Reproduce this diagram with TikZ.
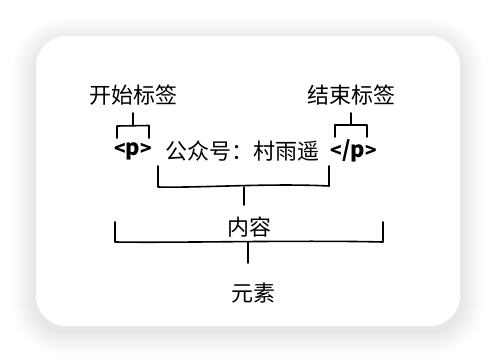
\documentclass[tikz,border=0pt]{standalone}
\usepackage{fontspec}
\setmainfont{Noto Sans CJK SC}
\usetikzlibrary{positioning}
\tikzset{
  lbl/.style={inner sep=0pt, font=\fontsize{22}{22}\selectfont},
  tag/.style={lbl, font=\fontsize{22}{22}\selectfont\bfseries},
  brace/.style={line width=1.6pt, line cap=round, line join=round},
}
\newcommand{\ang}[1]{{\fontsize{19}{19}\selectfont#1}}
\begin{document}
\begin{tikzpicture}[x=1pt,y=-1pt]
\useasboundingbox (0,0) rectangle (496,362);
\fill[white] (0,0) rectangle (496,362);
% soft shadow under the card
\foreach \i [evaluate=\i as \r using 30+\i] in {1,...,24}
  \fill[black, opacity=0.0055, rounded corners=\r pt] (36-\i,42-\i) rectangle (460+\i,331+\i);
\fill[white, rounded corners=30pt] (36,36) rectangle (460,326);

% labels
\node[lbl] (open) at (133,95) {开始标签};
\node[lbl] (close) at (351,95) {结束标签};
\node[tag] (ptag) at (133,151) {\ang{<}p\ang{>}};
\node[lbl] (text) at (242,151) {公众号：村雨遥};
\node[tag] (endtag) at (354,151) {\ang{<}/p\ang{>}};
\node[lbl] (content) at (249,227) {内容};
\node[lbl] (elem) at (253,293) {元素};

% bracket over <p>
\coordinate (o) at (133,126);
\draw[brace] (117,138) -- (117,126) -- (149,125.5) -- (149,138);
\draw[brace] (o) -- (open.south |- 0,113);
% bracket over </p>
\coordinate (c) at (351,125);
\draw[brace] (335,137) -- (335,125) -- (367,125) -- (367,137);
\draw[brace] (c) -- (close.south |- 0,113);
% bracket under the text
\coordinate (t) at (244,187);
\draw[brace] (158,166) -- (158,187) .. controls (200,188) and (270,183) .. (329,186) -- (329,166);
\draw[brace] (t) -- (t |- 0,205);
% bracket round everything
\coordinate (e) at (248,242);
\draw[brace] (115,222) -- (115,242) .. controls (180,243) and (300,240) .. (383,242) -- (383,222);
\draw[brace] (e) -- (e |- 0,263);
\end{tikzpicture}
\end{document}
